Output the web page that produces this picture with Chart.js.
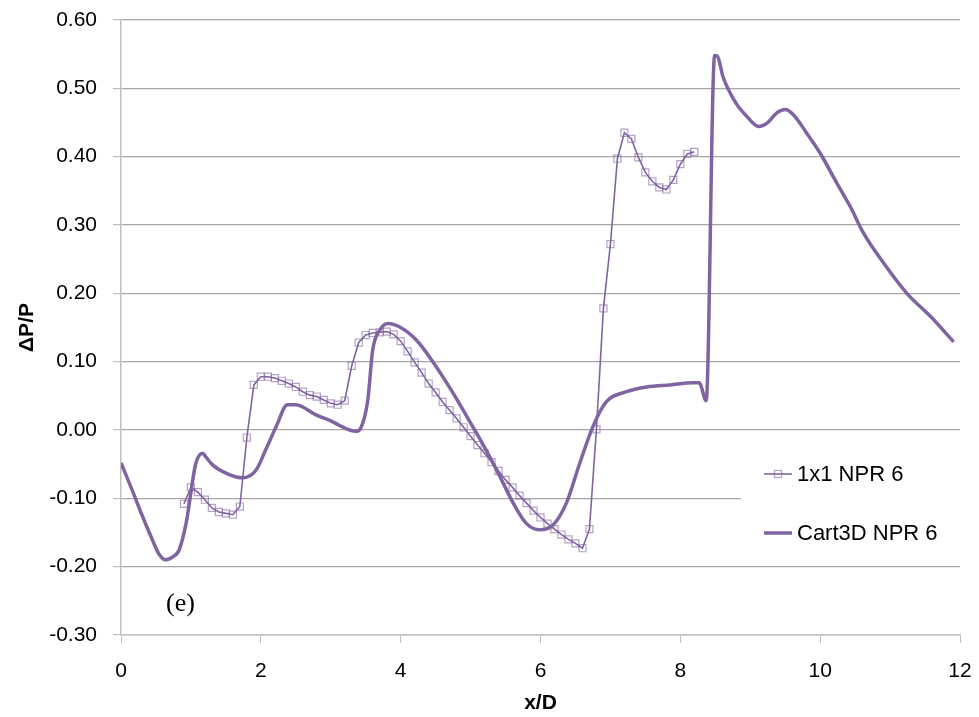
<!DOCTYPE html>
<html>
<head>
<meta charset="utf-8">
<script src="https://cdn.jsdelivr.net/npm/chart.js@4/dist/chart.umd.min.js"></script>
<style>
  html, body { margin: 0; padding: 0; background: #ffffff; }
  #wrap { width: 979px; height: 717px; position: relative; }
</style>
</head>
<body>
<div id="wrap"><canvas id="c" width="979" height="717"></canvas></div>
<script>
// Series labels
const seriesNames = ['1x1 NPR 6', 'Cart3D NPR 6'];

// 1x1 NPR 6 : x/D stations and pressure signature
const xD_1x1 = [
  0.9, 1.0, 1.1, 1.2, 1.3, 1.4, 1.5, 1.6, 1.7, 1.8, 1.9,
  2.0, 2.1, 2.2, 2.3, 2.4, 2.5, 2.6, 2.7, 2.8, 2.9,
  3.0, 3.1, 3.2, 3.3, 3.4, 3.5, 3.6, 3.7, 3.8, 3.9,
  4.0, 4.1, 4.2, 4.3, 4.4, 4.5, 4.6, 4.7, 4.8, 4.9,
  5.0, 5.1, 5.2, 5.3, 5.4, 5.5, 5.6, 5.7, 5.8, 5.9,
  6.0, 6.1, 6.2, 6.3, 6.4, 6.5, 6.6, 6.7, 6.8, 6.9,
  7.0, 7.1, 7.2, 7.3, 7.4, 7.5, 7.6, 7.7, 7.8, 7.9,
  8.0, 8.1, 8.2
];
const dpp_1x1 = [
  -0.108, -0.084, -0.091, -0.102, -0.114, -0.120, -0.122, -0.124, -0.112, -0.011, 0.066,
  0.078, 0.078, 0.076, 0.072, 0.068, 0.063, 0.056, 0.051, 0.049, 0.044,
  0.039, 0.037, 0.043, 0.094, 0.128, 0.139, 0.142, 0.143, 0.144, 0.140,
  0.130, 0.115, 0.099, 0.084, 0.068, 0.055, 0.041, 0.029, 0.017, 0.004,
  -0.009, -0.022, -0.034, -0.047, -0.060, -0.073, -0.084, -0.096, -0.107, -0.118,
  -0.128, -0.137, -0.145, -0.153, -0.160, -0.166, -0.173, -0.145, 0.001, 0.178,
  0.272, 0.397, 0.435, 0.426, 0.399, 0.377, 0.364, 0.355, 0.352, 0.366,
  0.389, 0.404, 0.407
];

// Cart3D NPR 6 : x/D stations and pressure signature
const xD_cart3d = [
  0.00, 0.16, 0.31, 0.45, 0.54, 0.64, 0.75, 0.83, 0.93, 1.07, 1.17, 1.21, 1.31,
  1.50, 1.74, 1.93, 2.07, 2.22, 2.38, 2.50, 2.79, 3.03, 3.12, 3.27, 3.36, 3.43,
  3.53, 3.60, 3.70, 3.82, 3.98, 4.22, 4.46, 4.75, 5.03, 5.22, 5.42, 5.61, 5.80,
  5.99, 6.18, 6.37, 6.56, 6.75, 6.94, 7.23, 7.52, 7.85, 8.19, 8.27, 8.37, 8.49,
  8.53, 8.61, 8.78, 8.95, 9.12, 9.24, 9.38, 9.50, 9.62, 9.81, 10.00, 10.24,
  10.43, 10.62, 10.91, 11.24, 11.58, 11.91
];
const dpp_cart3d = [
  -0.048, -0.088, -0.127, -0.161, -0.181, -0.190, -0.185, -0.176, -0.137, -0.049, -0.034, -0.039, -0.051,
  -0.063, -0.070, -0.059, -0.029, 0.005, 0.037, 0.037, 0.022, 0.012, 0.007, 0.000, -0.002, 0.003,
  0.044, 0.117, 0.146, 0.156, 0.151, 0.132, 0.100, 0.054, 0.005, -0.029, -0.068, -0.107, -0.137,
  -0.146, -0.139, -0.107, -0.049, 0.005, 0.041, 0.056, 0.063, 0.066, 0.069, 0.069, 0.043, 0.548,
  0.547, 0.517, 0.481, 0.459, 0.444, 0.449, 0.464, 0.469, 0.461, 0.434, 0.405, 0.361,
  0.327, 0.288, 0.244, 0.200, 0.166, 0.129
];

const purple = '#8064a2';
const markerStroke = 'rgba(128,100,162,0.6)';
const tickFont = { family: '"Liberation Sans", Arial, sans-serif', size: 21 };
const titleFont = { family: '"Liberation Sans", Arial, sans-serif', size: 21, weight: 'bold' };

const toPoints = (xs, ys) => xs.map((x, i) => ({ x: x, y: ys[i] }));

// Legend box and panel label painted inside the plot
const annotations = {
  id: 'annotations',
  beforeDatasetsDraw(chart) {
    const ctx = chart.ctx;
    ctx.save();
    ctx.fillStyle = '#ffffff';
    ctx.fillRect(741, 446, 221, 112);

    ctx.font = '22px "Liberation Sans", Arial, sans-serif';
    ctx.textBaseline = 'middle';
    ctx.fillStyle = '#000000';

    // 1x1 entry: thin line with hollow square
    ctx.strokeStyle = purple;
    ctx.lineWidth = 1.6;
    ctx.beginPath(); ctx.moveTo(764, 474); ctx.lineTo(792, 474); ctx.stroke();
    ctx.strokeStyle = markerStroke;
    ctx.lineWidth = 1.2;
    ctx.strokeRect(774.5, 470.5, 7, 7);
    ctx.fillText(seriesNames[0], 797, 475);

    // Cart3D entry: thick line
    ctx.strokeStyle = purple;
    ctx.lineWidth = 3.5;
    ctx.beginPath(); ctx.moveTo(764, 533); ctx.lineTo(792, 533); ctx.stroke();
    ctx.fillText(seriesNames[1], 797, 534);

    // panel tag
    ctx.font = '26px "Liberation Serif", "Times New Roman", serif';
    ctx.textBaseline = 'alphabetic';
    ctx.fillText('(e)', 166, 611);
    ctx.restore();
  }
};

// fixed axis boxes; edge labels may overhang the plot margins
const fitX = (s) => { s.height = 82; s.paddingLeft = 0; s.paddingRight = 0; };
const fitY = (s) => { s.width = 121; s.paddingTop = 0; s.paddingBottom = 0; };

new Chart(document.getElementById('c'), {
  type: 'line',
  data: {
    datasets: [
      {
        label: seriesNames[0],
        data: toPoints(xD_1x1, dpp_1x1),
        borderColor: purple,
        borderWidth: 1.6,
        pointStyle: 'rect',
        pointRadius: 5,
        pointBorderWidth: 1.2,
        pointBorderColor: markerStroke,
        pointBackgroundColor: 'rgba(0,0,0,0)',
        tension: 0,
        fill: false,
        order: 0
      },
      {
        label: seriesNames[1],
        data: toPoints(xD_cart3d, dpp_cart3d),
        borderColor: purple,
        borderWidth: 3.5,
        pointRadius: 0,
        cubicInterpolationMode: 'monotone',
        fill: false,
        order: 1
      }
    ]
  },
  options: {
    responsive: false,
    animation: false,
    devicePixelRatio: 1,
    layout: { padding: { top: 20, right: 19, bottom: 0, left: 0 } },
    plugins: {
      legend: { display: false },
      tooltip: { enabled: false }
    },
    scales: {
      x: {
        type: 'linear',
        min: 0,
        max: 12,
        afterFit: fitX,
        ticks: {
          stepSize: 2,
          color: '#000000',
          font: tickFont,
          padding: 16,
          maxRotation: 0
        },
        grid: {
          drawOnChartArea: false,
          drawTicks: true,
          tickLength: 8,
          color: '#bfbfbf'
        },
        border: { color: '#bfbfbf', width: 1.5 },
        title: {
          display: true,
          text: 'x/D',
          color: '#000000',
          font: titleFont,
          padding: { top: 0, bottom: 1 }
        }
      },
      y: {
        type: 'linear',
        min: -0.3,
        max: 0.6,
        afterFit: fitY,
        ticks: {
          stepSize: 0.1,
          color: '#000000',
          font: tickFont,
          padding: 16,
          callback: (v) => Number(v).toFixed(2)
        },
        grid: {
          color: '#a6a6a6',
          lineWidth: 1.2,
          drawTicks: true,
          tickLength: 8,
          tickColor: '#bfbfbf'
        },
        border: { color: '#bfbfbf', width: 1.5 },
        title: {
          display: true,
          text: 'ΔP/P',
          color: '#000000',
          font: titleFont,
          padding: { top: 15, bottom: 0 }
        }
      }
    }
  },
  plugins: [annotations]
});
</script>
</body>
</html>
